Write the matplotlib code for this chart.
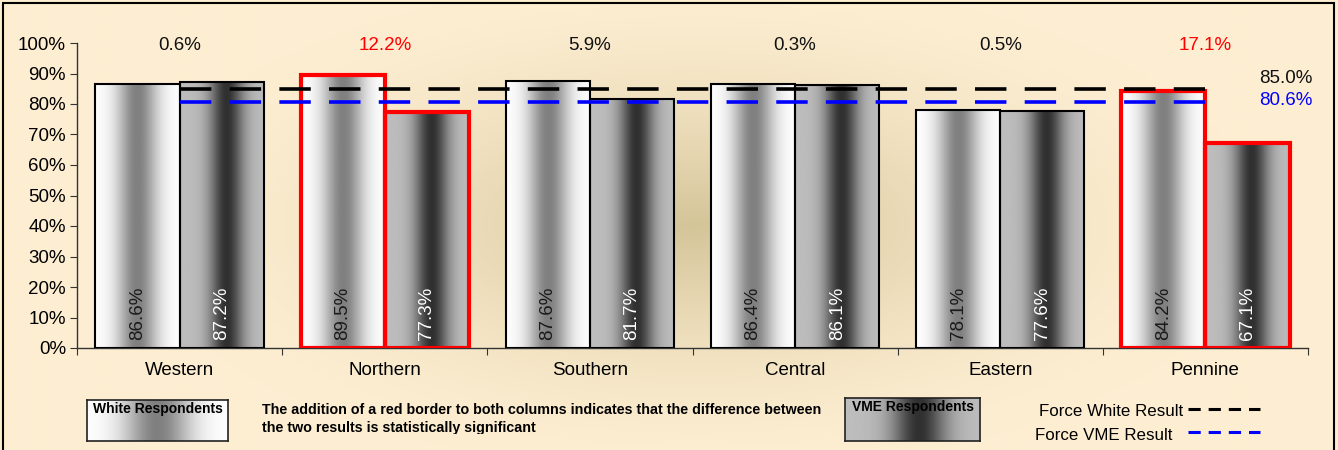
import numpy as np
import matplotlib.pyplot as plt
from matplotlib.patches import Rectangle
from matplotlib.lines import Line2D
from matplotlib.transforms import Bbox

plt.rcParams['font.family'] = ['Liberation Sans', 'DejaVu Sans']

areas = ["Western", "Northern", "Southern", "Central", "Eastern", "Pennine"]
white_pct = [86.6, 89.5, 87.6, 86.4, 78.1, 84.2]
vme_pct = [87.2, 77.3, 81.7, 86.1, 77.6, 67.1]
gap_pct = [0.6, 12.2, 5.9, 0.3, 0.5, 17.1]
significant = [False, True, False, False, False, True]
force_white = 85.0
force_vme = 80.6

W, H = 1338, 450
fig = plt.figure(figsize=(W / 100, H / 100), dpi=100)

# background: cream with a darker tan glow in the middle
bg = fig.add_axes([0, 0, 1, 1], zorder=-10)
gx, gy = np.meshgrid(np.linspace(0, 1, 400), np.linspace(0, 1, 150))
r = np.sqrt(((gx - 0.52) / 0.42) ** 2 + ((gy - 0.5) / 0.55) ** 2)
t = np.clip(1 - r, 0, 1) ** 1.6
edge = np.array([253, 238, 210]) / 255
mid = np.array([212, 196, 152]) / 255
img = edge[None, None, :] * (1 - t[..., None]) + mid[None, None, :] * t[..., None]
bg.imshow(img, extent=[0, 1, 0, 1], aspect='auto', origin='lower')
bg.set_xlim(0, 1)
bg.set_ylim(0, 1)
bg.axis('off')
bg.add_patch(Rectangle((3 / W, -0.1), (1334 - 3) / W, 1.1 - 3 / H,
                       fill=False, ec='black', lw=1.5, transform=bg.transAxes))

FS = 13.5
ax = fig.add_axes([77 / W, 1 - 348 / H, (1308 - 77) / W, (348 - 43) / H])
ax.patch.set_alpha(0)
ax.set_xlim(0, 6)
ax.set_ylim(0, 100)
for s in ['top', 'right']:
    ax.spines[s].set_visible(False)
for s in ['left', 'bottom']:
    ax.spines[s].set_color('#333333')
    ax.spines[s].set_linewidth(1)
ax.set_yticks(np.arange(0, 101, 10))
ax.set_yticklabels([f"{v}%" for v in range(0, 101, 10)], fontsize=FS)
ax.set_xticks(np.arange(0, 7))
ax.set_xticklabels([])
ax.tick_params(axis='both', direction='out', length=5, color='#333333', pad=3)
for i, name in enumerate(areas):
    ax.text(i + 0.5, -4.5, name, ha='center', va='top', fontsize=FS)

# horizontal gradients for the two bar fills
u = np.linspace(0, 1, 256)
white_grad = 1 - 0.5 * np.exp(-((u - 0.5) / 0.24) ** 2)
vme_grad = 0.74 - 0.55 * np.exp(-((u - 0.55) / 0.2) ** 2)


def grad_bar(axis, x0, width, height, grad, edgecolor, lw):
    axis.imshow(np.tile(grad, (2, 1)), cmap='gray', vmin=0, vmax=1,
                extent=[x0, x0 + width, 0, height], aspect='auto',
                interpolation='bilinear', zorder=2)
    axis.add_patch(Rectangle((x0, 0), width, height, fill=False, ec=edgecolor,
                             lw=lw, zorder=3))


bw = 0.41
for i in range(len(areas)):
    c = i + 0.5
    ec = 'red' if significant[i] else 'black'
    lw = 3 if significant[i] else 1.5
    grad_bar(ax, c - bw, bw, white_pct[i], white_grad, ec, lw)
    grad_bar(ax, c, bw, vme_pct[i], vme_grad, ec, lw)
    ax.text(c - bw / 2, 2.5, f"{white_pct[i]:.1f}%", rotation=90, ha='center',
            va='bottom', fontsize=FS, color='#1a1a1a', zorder=4)
    ax.text(c + bw / 2, 2.5, f"{vme_pct[i]:.1f}%", rotation=90, ha='center',
            va='bottom', fontsize=FS, color='white', zorder=4)
    ax.text(c, 99.3, f"{gap_pct[i]:.1f}%", ha='center', va='center', fontsize=FS,
            color='red' if significant[i] else '#111111', clip_on=False)
ax.set_aspect('auto')

# force-wide averages, dash pattern sized so the line ends on a dash
ax.plot([0.5, 5.5], [force_white] * 2, color='black', lw=2.6, dashes=(8.7, 5.06), zorder=5)
ax.plot([0.5, 5.5], [force_vme] * 2, color='#0000ff', lw=2.6, dashes=(8.7, 5.06), zorder=5)
ax.text(5.89, force_white + 3.5, f"{force_white:.1f}%", ha='center', va='center',
        fontsize=FS, color='#111111', clip_on=False)
ax.text(5.89, force_vme + 0.6, f"{force_vme:.1f}%", ha='center', va='center',
        fontsize=FS, color='#0000ff', clip_on=False)


# legend boxes below the chart
def legend_box(x0, x1, y0, y1, grad, label):
    lax = fig.add_axes([x0 / W, 1 - y1 / H, (x1 - x0) / W, (y1 - y0) / H])
    lax.imshow(np.tile(grad, (2, 1)), cmap='gray', vmin=0, vmax=1, aspect='auto',
               extent=[0, 1, 0, 1], interpolation='bilinear')
    lax.set_xticks([])
    lax.set_yticks([])
    for s in lax.spines.values():
        s.set_linewidth(1.2)
        s.set_color('#222222')
    lax.text(0.5, 0.95, label, ha='center', va='top', fontsize=10, fontweight='bold',
             transform=lax.transAxes)


legend_box(87, 228, 400, 441, white_grad, "White Respondents")
legend_box(845, 980, 398, 441, vme_grad, "VME Respondents")

note = fig.text(262 / W, 1 - 403 / H,
                "The addition of a red border to both columns indicates that the difference between\n"
                "the two results is statistically significant",
                ha='left', va='top', fontsize=10.3, fontweight='bold', linespacing=1.4)
note.set_clip_box(Bbox.from_extents(0, H - 434, W, H))
note.set_clip_on(True)

fig.text(1183 / W, 1 - 411 / H, "Force White Result", ha='right', va='center', fontsize=12.2)
fig.text(1172 / W, 1 - 435 / H, "Force VME Result", ha='right', va='center', fontsize=12.2)
fig.add_artist(Line2D([1188 / W, 1260 / W], [1 - 409 / H] * 2, color='black', lw=2.2,
                      dashes=(4, 2.6)))
fig.add_artist(Line2D([1188 / W, 1260 / W], [1 - 432 / H] * 2, color='#0000ff', lw=2.2,
                      dashes=(4, 2.6)))

fig.savefig("out.png", dpi=100)
